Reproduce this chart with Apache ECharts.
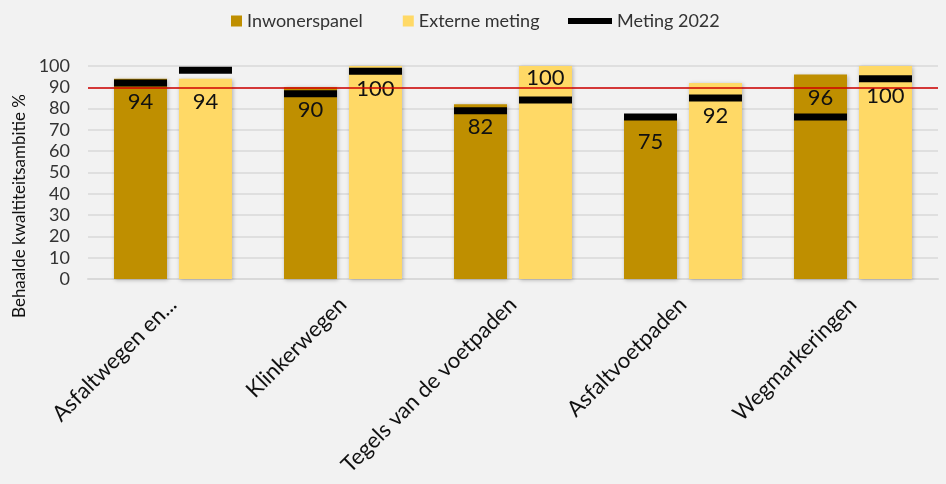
<!DOCTYPE html>
<html>
<head>
<meta charset="utf-8">
<script src="https://cdn.jsdelivr.net/npm/echarts@6/dist/echarts.min.js"></script>
<style>
html,body{margin:0;padding:0;background:#F2F2F2;}
#chart{width:946px;height:484px;}
</style>
</head>
<body>
<div id="chart"></div>
<script>
const categories = ['Asfaltwegen en...', 'Klinkerwegen', 'Tegels van de voetpaden', 'Asfaltvoetpaden', 'Wegmarkeringen'];
const inwonerspanel = [94, 90, 82, 75, 96];
const externeMeting = [94, 100, 100, 92, 100];
const meting2022Inwoners = [92, 87, 79, 76, 76];
const meting2022Extern = [98, 97.5, 84, 85, 94];
const ambitie = 90;
const yTicks = { min: 0, max: 100, interval: 10 };

const FONT = 'Lato';
const barCatGap = '30.6%';
const barGapPct = '22.6%';
const GRID = { left: 88, right: 8, top: 66, bottom: 205 };
const CHART_H = 484;
const MARKER_H = 7;
const LABEL_FS = 22;
const BASE_DIST = 12;

const pxPerUnit = (CHART_H - GRID.top - GRID.bottom) / (yTicks.max - yTicks.min);

// place each value label so it does not collide with its Meting 2022 marker
function labelDistance(value, marker) {
  const centre = (value - marker) * pxPerUnit;          // marker centre below bar top, px
  const mTop = centre - MARKER_H / 2, mBot = centre + MARKER_H / 2;
  const bandTop = BASE_DIST, bandBot = BASE_DIST + LABEL_FS;
  if (mBot < bandTop || mTop > bandBot) return BASE_DIST;
  if (mTop >= 24) return 1;                              // room above the marker
  return mBot + 3;                                       // push below the marker
}
function barData(values, markers) {
  return values.map((v, i) => ({
    value: v,
    label: { distance: labelDistance(v, markers[i]) }
  }));
}

const chart = echarts.init(document.getElementById('chart'), null, { renderer: 'canvas' });

const barShadow = { shadowBlur: 4, shadowColor: 'rgba(0,0,0,0.28)', shadowOffsetX: 1, shadowOffsetY: 1 };
const barLabel = {
  show: true, position: 'insideTop', distance: BASE_DIST,
  fontFamily: FONT, fontSize: LABEL_FS, color: '#111'
};
const markerCommon = {
  type: 'pictorialBar',
  name: 'Meting 2022',
  symbol: 'rect',
  symbolSize: ['100%', MARKER_H],
  symbolPosition: 'end',
  symbolOffset: [0, '-50%'],
  barCategoryGap: barCatGap,
  barGap: barGapPct,
  itemStyle: { color: '#000' },
  z: 5,
  silent: true
};

chart.setOption({
  backgroundColor: '#F2F2F2',
  animation: false,
  textStyle: { fontFamily: FONT },
  legend: [
    {
      left: 231, top: 12, padding: 0,
      itemWidth: 11, itemHeight: 11, itemGap: 40,
      icon: 'rect',
      data: ['Inwonerspanel', 'Externe meting'],
      textStyle: { fontFamily: FONT, fontSize: 18, color: '#333' }
    },
    {
      left: 568, top: 12, padding: 0,
      itemWidth: 44, itemHeight: 6,
      icon: 'rect',
      data: ['Meting 2022'],
      textStyle: { fontFamily: FONT, fontSize: 18, color: '#333' }
    }
  ],
  grid: { left: GRID.left, right: GRID.right, top: GRID.top, bottom: GRID.bottom, containLabel: false },
  xAxis: {
    type: 'category',
    data: categories,
    axisTick: { show: false },
    axisLine: { show: true, lineStyle: { color: '#D9D9D9', width: 2 } },
    axisLabel: {
      rotate: 45, margin: 22, interval: 0,
      fontFamily: FONT, fontSize: 22, color: '#111'
    }
  },
  yAxis: {
    type: 'value',
    min: yTicks.min, max: yTicks.max, interval: yTicks.interval,
    axisLine: { show: false },
    axisTick: { show: false },
    splitLine: { lineStyle: { color: '#D9D9D9', width: 1.5 } },
    axisLabel: { margin: 18, fontFamily: FONT, fontSize: 18, color: '#333' }
  },
  graphic: [{
    type: 'text',
    x: 20, y: 206,
    rotation: Math.PI / 2,
    style: {
      text: 'Behaalde kwaltiteitsambitie %',
      fontFamily: FONT, fontSize: 17, fontWeight: 'normal',
      fill: '#111', align: 'center', verticalAlign: 'middle'
    }
  }],
  series: [
    {
      type: 'bar', name: 'Inwonerspanel', data: barData(inwonerspanel, meting2022Inwoners),
      barCategoryGap: barCatGap, barGap: barGapPct,
      itemStyle: Object.assign({ color: '#BF8F00' }, barShadow),
      label: barLabel,
      markLine: {
        silent: true, symbol: 'none',
        label: { show: false },
        lineStyle: { color: '#D00000', width: 1.5, type: 'solid' },
        data: [{ yAxis: ambitie }]
      },
      z: 2
    },
    {
      type: 'bar', name: 'Externe meting', data: barData(externeMeting, meting2022Extern),
      barCategoryGap: barCatGap, barGap: barGapPct,
      itemStyle: Object.assign({ color: '#FFD966' }, barShadow),
      label: barLabel,
      z: 2
    },
    Object.assign({}, markerCommon, { data: meting2022Inwoners }),
    Object.assign({}, markerCommon, { data: meting2022Extern })
  ]
});
</script>
</body>
</html>
